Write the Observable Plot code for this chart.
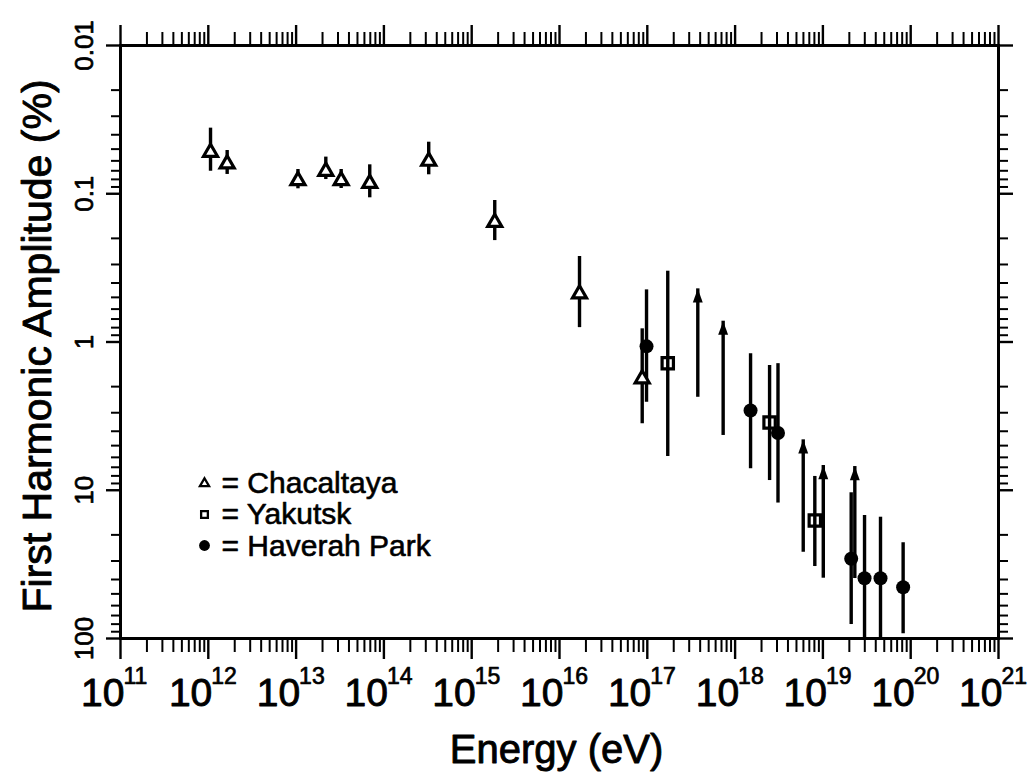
<!DOCTYPE html>
<html>
<head>
<meta charset="utf-8">
<script src="https://cdn.jsdelivr.net/npm/d3@7"></script>
<script src="https://cdn.jsdelivr.net/npm/@observablehq/plot@0.6"></script>
<style>
  html, body { margin: 0; padding: 0; background: #fff; }
  svg { display: block; }
</style>
</head>
<body>
<div id="chart"></div>
<script>
// Chacaltaya: energy (eV), first harmonic amplitude (%), error bar ends
const chacEnergy = [1.06e12, 1.64e12, 1.05e13, 2.18e13, 3.26e13, 6.9e13, 3.24e14, 1.83e15, 1.69e16, 8.75e16];
const chacAmp    = [0.0525, 0.0628, 0.0815, 0.0705, 0.0815, 0.085, 0.0603, 0.156, 0.473, 1.77];
const chacLo     = [0.0361, 0.0511, 0.0686, 0.0566, 0.0686, 0.0638, 0.0449, 0.111, 0.265, 0.815];
const chacHi     = [0.0705, 0.0741, 0.0926, 0.0802, 0.0922, 0.1065, 0.0745, 0.207, 0.80, 3.56];

// Yakutsk
const yakEnergy = [1.71e17, 2.47e18, 8.09e18];
const yakAmp    = [1.39, 3.49, 16.0];
const yakLo     = [0.333, 1.44, 8.07];
const yakHi     = [5.92, 8.6, 32.7];

// Haverah Park
const hpEnergy = [9.8e16, 1.5e18, 3.08e18, 2.1e19, 2.98e19, 4.53e19, 8.2e19];
const hpAmp    = [1.07, 2.90, 4.11, 29.0, 39.2, 39.2, 45.1];
const hpLo     = [0.445, 1.20, 1.40, 10.4, 14.8, 15.2, 22.6];
const hpHi     = [2.55, 7.16, 12.2, 80.5, 100, 100, 92.9];

// Limits drawn as arrows: from value toward arrow tip
const limEnergy = [3.76e17, 7.31e17, 5.97e18, 1.01e19, 2.31e19];
const limFrom   = [2.36, 4.27, 26.2, 39.2, 39.4];
const limTo     = [0.438, 0.724, 4.57, 6.81, 6.92];

// Axis ticks and labels
const xDecades = [11, 12, 13, 14, 15, 16, 17, 18, 19, 20, 21];
const yTickValues = [0.01, 0.1, 1, 10, 100];
const yTickLabels = ["0.01", "0.1", "1", "10", "100"];
const minorFactors = [2, 3, 4, 5, 6, 7, 8, 9];

const xLabel = "Energy (eV)";
const yLabel = "First Harmonic Amplitude (%)";
const legendNames = ["Chacaltaya", "Yakutsk", "Haverah Park"];

const rows = (e, a, lo, hi) => e.map((v, i) => ({e: v, a: a[i], lo: lo[i], hi: hi[i]}));
const chacaltaya = rows(chacEnergy, chacAmp, chacLo, chacHi);
const yakutsk = rows(yakEnergy, yakAmp, yakLo, yakHi);
const haverah = rows(hpEnergy, hpAmp, hpLo, hpHi);
const limits = limEnergy.map((e, i) => ({e, from: limFrom[i], to: limTo[i]}));

const xMajor = xDecades.map(n => 10 ** n);
const xMinor = xDecades.slice(0, -1).flatMap(n => minorFactors.map(k => k * 10 ** n));
const yMinor = yTickValues.slice(0, -1).flatMap(v => minorFactors.map(k => k * v));

// Narrow filled arrow head with its tip at the anchor point
const arrowHead = {
  draw(context, size) {
    const s = Math.sqrt(size / Math.PI);
    context.moveTo(0, 0);
    context.lineTo(s * 0.8, s * 2.2);
    context.lineTo(-s * 0.8, s * 2.2);
    context.closePath();
  }
};

const font = "'Liberation Sans', Arial, sans-serif";
const blank = () => "";
// slightly heavier lettering: thin outline in the text colour
const ink = {fill: "black", stroke: "black", strokeWidth: 0.7};

const legendMarks = legendNames.flatMap((name, i) => {
  const symbol = ["triangle", "square", "circle"][i];
  const r = [3.4, 3.8, 5.4][i];
  const filled = i === 2;
  return [
    Plot.dot([name], {frameAnchor: "bottom-left", dx: 84, dy: -155 + i * 31, symbol, r,
      stroke: filled ? "none" : "black", strokeWidth: 2.3, fill: filled ? "black" : "white"}),
    Plot.text([name], {frameAnchor: "bottom-left", dx: 101, dy: -146 + i * 31.5, text: d => "= " + d,
      textAnchor: "start", lineAnchor: "bottom", fontSize: 30, ...ink, strokeWidth: 0.6})
  ];
});

const chart = Plot.plot({
  width: 1033,
  height: 776,
  marginTop: 45,
  marginBottom: 138,
  marginLeft: 120,
  marginRight: 35,
  style: {fontFamily: font, background: "#fff", color: "black"},
  x: {type: "log", domain: [1e11, 1e21]},
  y: {type: "log", domain: [0.01, 100], reverse: true},
  marks: [
    // tick marks on all four sides, pointing outward
    Plot.axisX(xMajor, {anchor: "bottom", tickSize: 21, strokeWidth: 2.4, tickFormat: blank, label: null}),
    Plot.axisX(xMinor, {anchor: "bottom", tickSize: 14, strokeWidth: 2, tickFormat: blank, label: null}),
    Plot.axisX(xMajor, {anchor: "top", tickSize: 21, strokeWidth: 2.4, tickFormat: blank, label: null}),
    Plot.axisX(xMinor, {anchor: "top", tickSize: 14, strokeWidth: 2, tickFormat: blank, label: null}),
    Plot.axisY(yTickValues, {anchor: "left", tickSize: 14, strokeWidth: 2.4, tickFormat: blank, label: null}),
    Plot.axisY(yMinor, {anchor: "left", tickSize: 9, strokeWidth: 2, tickFormat: blank, label: null}),
    Plot.axisY(yTickValues, {anchor: "right", tickSize: 14, strokeWidth: 2.4, tickFormat: blank, label: null}),
    Plot.axisY(yMinor, {anchor: "right", tickSize: 9, strokeWidth: 2, tickFormat: blank, label: null}),

    // power-of-ten labels on the energy axis
    Plot.text(xDecades, {x: n => 10 ** n, frameAnchor: "bottom", text: () => "10", textAnchor: "end",
      lineAnchor: "bottom", dx: 4, dy: 67, fontSize: 39, ...ink, strokeWidth: 0.9}),
    Plot.text(xDecades, {x: n => 10 ** n, frameAnchor: "bottom", text: n => String(n), textAnchor: "start",
      lineAnchor: "bottom", dx: 3, dy: 45, fontSize: 23, ...ink}),

    // amplitude labels, rotated
    Plot.text(yTickValues, {y: d => d, frameAnchor: "left", text: (d, i) => yTickLabels[i], rotate: -90,
      textAnchor: "middle", lineAnchor: "bottom", dx: -28, fontSize: 26, ...ink}),

    // axis titles
    Plot.text([xLabel], {frameAnchor: "bottom", text: d => d, textAnchor: "middle", lineAnchor: "bottom",
      dx: -3, dy: 124, fontSize: 40, ...ink, strokeWidth: 0.9}),
    Plot.text([yLabel], {frameAnchor: "left", text: d => d, rotate: -90, textAnchor: "middle",
      lineAnchor: "bottom", dx: -70, dy: 4, fontSize: 41, ...ink, strokeWidth: 0.9}),

    // error bars
    Plot.ruleX(chacaltaya, {x: "e", y1: "lo", y2: "hi", strokeWidth: 3.4, stroke: "black"}),
    Plot.ruleX(yakutsk, {x: "e", y1: "lo", y2: "hi", strokeWidth: 3.4, stroke: "black"}),
    Plot.ruleX(haverah, {x: "e", y1: "lo", y2: "hi", strokeWidth: 3.4, stroke: "black"}),

    // limit arrows
    Plot.ruleX(limits, {x: "e", y1: "from", y2: "to", strokeWidth: 3.4, stroke: "black"}),
    Plot.dot(limits, {x: "e", y: "to", symbol: arrowHead, r: 6.2, fill: "black", stroke: "none"}),

    // data points
    Plot.dot(chacaltaya, {x: "e", y: "a", symbol: "triangle", r: 5.2, stroke: "black", strokeWidth: 3.2, fill: "white"}),
    Plot.dot(yakutsk, {x: "e", y: "a", symbol: "square", r: 6.4, stroke: "black", strokeWidth: 3.2, fill: "none"}),
    Plot.dot(haverah, {x: "e", y: "a", r: 7, fill: "black", stroke: "none"}),

    ...legendMarks,

    Plot.frame({stroke: "black", strokeWidth: 3})
  ]
});

document.getElementById("chart").appendChild(chart);
</script>
</body>
</html>
